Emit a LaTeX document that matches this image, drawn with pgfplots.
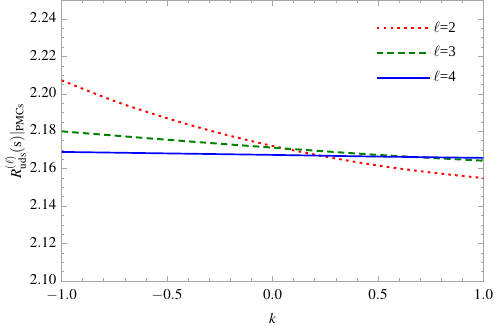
\documentclass[border=0pt]{standalone}
\usepackage{mathptmx}
\usepackage{fontspec}
\setmainfont{Liberation Serif}
\usepackage{pgfplots}
\pgfplotsset{compat=1.18}

\begin{document}
\fontsize{11.5}{13}\selectfont
\begin{tikzpicture}
\begin{axis}[
    scale only axis,
    width=324.75pt, height=216pt,
    xmin=-1, xmax=1,
    ymin=2.10, ymax=2.25,
    xtick={-1,-0.5,0,0.5,1},
    ytick={2.10,2.12,2.14,2.16,2.18,2.20,2.22,2.24},
    minor x tick num=4,
    minor y tick num=3,
    tick align=inside,
    major tick length=4pt,
    minor tick length=2.2pt,
    axis line style={gray!70, line width=0.6pt},
    every tick/.style={gray!70, line width=0.5pt},
    xticklabel style={inner ysep=0.5pt, yshift=-5.8pt, /pgf/number format/.cd, fixed, fixed zerofill, precision=1},
    yticklabel style={inner ysep=0.5pt, yshift=1pt, /pgf/number format/.cd, fixed, fixed zerofill, precision=2},
    xlabel={$k$},
    ylabel={$R^{(\ell)}_{\mathrm{uds}}(\mathrm{s})|_{\mathrm{PMCs}}$},
    xlabel style={yshift=-5pt},
    ylabel style={yshift=-5pt},
    legend style={draw=none, fill=none, at={(axis cs:0.47,2.2415)}, anchor=north west,
        row sep=5.5pt, font=\fontsize{11.5}{13}\selectfont},
    legend cell align=left,
    legend image code/.code={\draw[#1] (0pt,0pt) -- (41pt,0pt);},
    /tikz/every even column/.append style={column sep=4pt},
    ]
    % l = 2
    \addplot[red, line width=1.5pt, dash pattern=on 2pt off 3.3pt, smooth] coordinates {
    (-1.00,2.2073) (-0.75,2.1962) (-0.50,2.1870) (-0.25,2.1790)
    (0.00,2.1722) (0.25,2.1665) (0.50,2.1617) (0.75,2.1580) (1.00,2.1550)
    };
    \addlegendentry{$\ell$=2}
    % l = 3
    \addplot[green!50!black, line width=1.5pt, dash pattern=on 5pt off 3.2pt, smooth] coordinates {
    (-1.00,2.1800) (-0.50,2.1755) (0.00,2.1713) (0.50,2.1674) (1.00,2.1643)
    };
    \addlegendentry{$\ell$=3}
    % l = 4
    \addplot[blue, line width=1.3pt, smooth] coordinates {
    (-1.00,2.1690) (-0.50,2.1682) (0.00,2.1674) (0.50,2.1665) (1.00,2.1658)
    };
    \addlegendentry{$\ell$=4}
\end{axis}
\end{tikzpicture}
\end{document}
